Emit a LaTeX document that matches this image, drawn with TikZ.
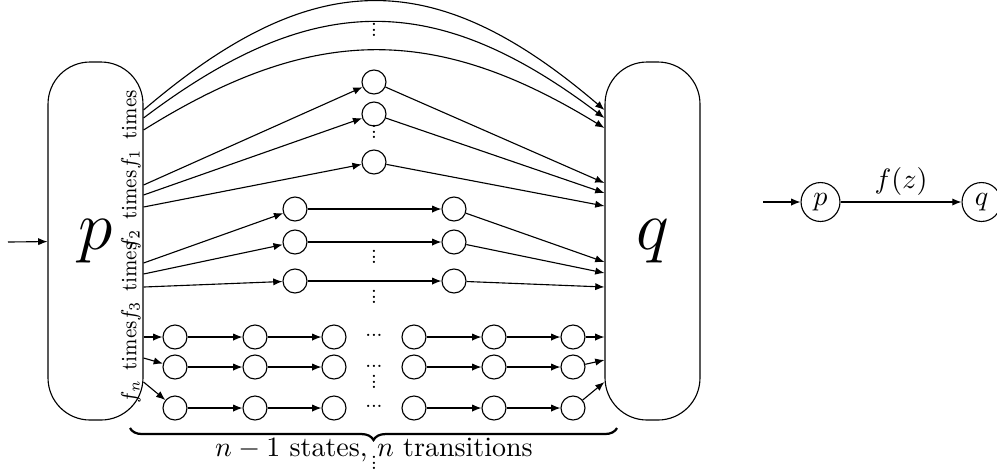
\documentclass[tikz,border=0pt]{standalone}
\usepackage{graphicx}
\usetikzlibrary{arrows.meta,calc,decorations.pathreplacing}
\newcommand{\mydh}{\hbox{\scriptsize\hbox to 2pt{\hss.\hss}\hbox to 2pt{\hss.\hss}\hbox to 2pt{\hss.\hss}}}
\newcommand{\mydv}{\vbox{\scriptsize\baselineskip=2pt\lineskiplimit=-10pt\lineskip=0pt\hbox{.}\hbox{.}\hbox{.}}}
\newcommand{\mylab}[1]{\scalebox{0.95}[1.12]{$f_{#1}$\hspace{3.5pt}times}}
\begin{document}
\begin{tikzpicture}[x=0.357pt,y=-0.357pt,
  st/.style={draw,circle,minimum size=8.57pt,inner sep=0pt},
  bigst/.style={draw,circle,minimum size=13.9pt,inner sep=0pt},
  box/.style={draw,rounded corners=15pt,minimum width=33.9pt,minimum height=127.8pt,inner sep=0pt,font=\Huge},
  lab/.style={rotate=90,font=\fontsize{7}{8}\selectfont,inner sep=0pt},
  dotn/.style={inner sep=0pt},
  tr/.style={-{Latex[length=3.3pt,width=2.6pt]}}]
\useasboundingbox (0,0) rectangle (997,471);
% big states
\node[box] (P) at (95.5,241) {$p$};
\node[box] (Q) at (652.5,241) {$q$};
\coordinate (in) at (8,242);
\draw[tr] (in) -- (P);
% labels
\node[lab] (l1) at (131,129.5) {\mylab{1}};
\node[lab] (l2) at (131,210) {\mylab{2}};
\node[lab] (l3) at (131,282) {\mylab{3}};
\node[lab] (l4) at (131,362) {\mylab{n}};
% border points
\foreach \y in {110,118,130,185,195,207,263,274,287,337,358,382}
  \coordinate (pe\y) at ($(P.east)+(0,\y-241)$);
\foreach \y in {110,118,128,183,193,206,262,273,287,337,360,382}
  \coordinate (qw\y) at ($(Q.west)+(0,\y-241)$);
% direct arcs
\draw[tr] (pe110) .. controls (313,-35) and (435,-35) .. (qw110);
\draw[tr] (pe118) .. controls (313,-10) and (435,-10) .. (qw118);
\draw[tr] (pe130) .. controls (313,24) and (435,24) .. (qw128);
\node[dotn] (v1) at (374,30) {\mydv};
% one intermediate state
\node[st] (A1) at (374,82) {};
\node[st] (A2) at (374,114) {};
\node[st] (A3) at (374,162) {};
\node[dotn] (v2) at (374,132) {\mydv};
\draw[tr] (pe185) -- (A1);
\draw[tr] (pe195) -- (A2);
\draw[tr] (pe207) -- (A3);
\draw[tr] (A1) -- (qw183);
\draw[tr] (A2) -- (qw193);
\draw[tr] (A3) -- (qw206);
% two intermediate states
\node[st] (B1) at (295,209) {};
\node[st] (B2) at (295,242) {};
\node[st] (B3) at (295,281) {};
\node[st] (C1) at (454,209) {};
\node[st] (C2) at (454,242) {};
\node[st] (C3) at (454,281) {};
\node[dotn] (v3) at (374,257) {\mydv};
\node[dotn] (v4) at (374,297) {\mydv};
\draw[tr] (pe263) -- (B1);
\draw[tr] (pe274) -- (B2);
\draw[tr] (pe287) -- (B3);
\foreach \i in {1,2,3} \draw[tr] (B\i) -- (C\i);
\draw[tr] (C1) -- (qw262);
\draw[tr] (C2) -- (qw273);
\draw[tr] (C3) -- (qw287);
% n-1 intermediate states
\foreach \r/\yy in {1/337,2/367,3/408}{
  \foreach \c/\xx in {1/175,2/255,3/334,4/414,5/494,6/573}
    \node[st] (D\r\c) at (\xx,\yy) {};
  \draw[tr] (D\r1) -- (D\r2);
  \draw[tr] (D\r2) -- (D\r3);
  \draw[tr] (D\r4) -- (D\r5);
  \draw[tr] (D\r5) -- (D\r6);
}
\draw[tr] (pe337) -- (D11);
\draw[tr] (pe358) -- (D21);
\draw[tr] (pe382) -- (D31);
\draw[tr] (D16) -- (qw337);
\draw[tr] (D26) -- (qw360);
\draw[tr] (D36) -- (qw382);
\node[dotn] (h1) at (374,335) {\mydh};
\node[dotn] (h2) at (374,366) {\mydh};
\node[dotn] (h3) at (374,406) {\mydh};
\node[dotn] (v5) at (374,382) {\mydv};
% brace
\coordinate (bl) at (130,428);
\coordinate (br) at (617,428);
\draw[decorate,decoration={brace,mirror,amplitude=4.3pt},line width=0.8pt] (bl) -- (br);
\node (bt) at (374,450) {$n-1$ states, $n$ transitions};
\node[dotn] (v6) at (374,463) {\mydv};
% right small automaton
\coordinate (in2) at (763,202);
\node[bigst] (sp) at (820.5,202) {$p$};
\node[bigst] (sq) at (981.5,202) {$q$};
\draw[tr] (in2) -- (sp);
\draw[tr] (sp) -- node[above,inner sep=2pt] (fz) {$f(z)$} (sq);
\end{tikzpicture}
\end{document}
